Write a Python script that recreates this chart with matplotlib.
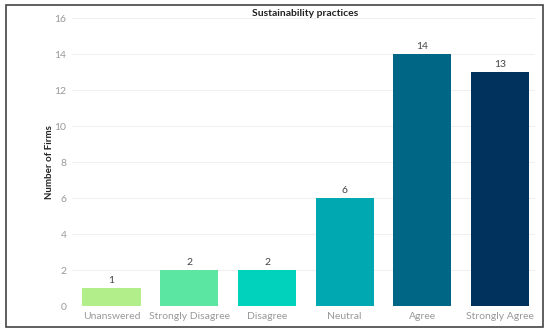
import matplotlib
matplotlib.use("Agg")
import matplotlib.pyplot as plt
from matplotlib.patches import Rectangle

categories = ["Unanswered", "Strongly Disagree", "Disagree", "Neutral", "Agree", "Strongly Agree"]
values = [1, 2, 2, 6, 14, 13]
colors = ["#b2ee8a", "#5be6a2", "#00d2bb", "#00a9b1", "#006686", "#00325d"]
yticks = [0, 2, 4, 6, 8, 10, 12, 14, 16]

plt.rcParams['font.family'] = ['Lato', 'DejaVu Sans']

fig = plt.figure(figsize=(5.5, 3.34), dpi=100)
fig.patches.append(Rectangle((6/550, 1-327/334), 537/550, 322/334, transform=fig.transFigure,
                             fill=False, edgecolor="#444444", linewidth=1.2))
ax = fig.add_axes([72/550, 28/334, 463/550, 288/334])
x = list(range(len(categories)))
ax.bar(x, values, width=0.75, color=colors, zorder=2)
for xi, v in zip(x, values):
    ax.text(xi, v + 0.15, str(v), ha="center", va="bottom", fontsize=7.5, color="#444444")
ax.set_xlim(-0.51, 5.45)
ax.set_ylim(0, 16)
ax.set_yticks(yticks)
ax.set_yticklabels([str(t) for t in yticks])
ax.set_xticks(x)
ax.set_xticklabels(categories)
ax.tick_params(axis="both", length=0, labelsize=7.5, labelcolor="#999999")
ax.tick_params(axis="x", pad=4)
ax.tick_params(axis="y", pad=4)
ax.grid(axis="y", color="#f0f0f0", linewidth=0.8, zorder=0)
for s in ax.spines.values():
    s.set_visible(False)
ax.set_ylabel("Number of Firms", fontsize=7, fontweight="bold", color="#222222")
ax.yaxis.set_label_coords(-(72-54)/463, 0.5)
fig.text(305/550, 1-14/334, "Sustainability practices", ha="center", va="center",
         fontsize=7.5, fontweight="bold", color="#222222")
fig.savefig("out.png", dpi=100)
